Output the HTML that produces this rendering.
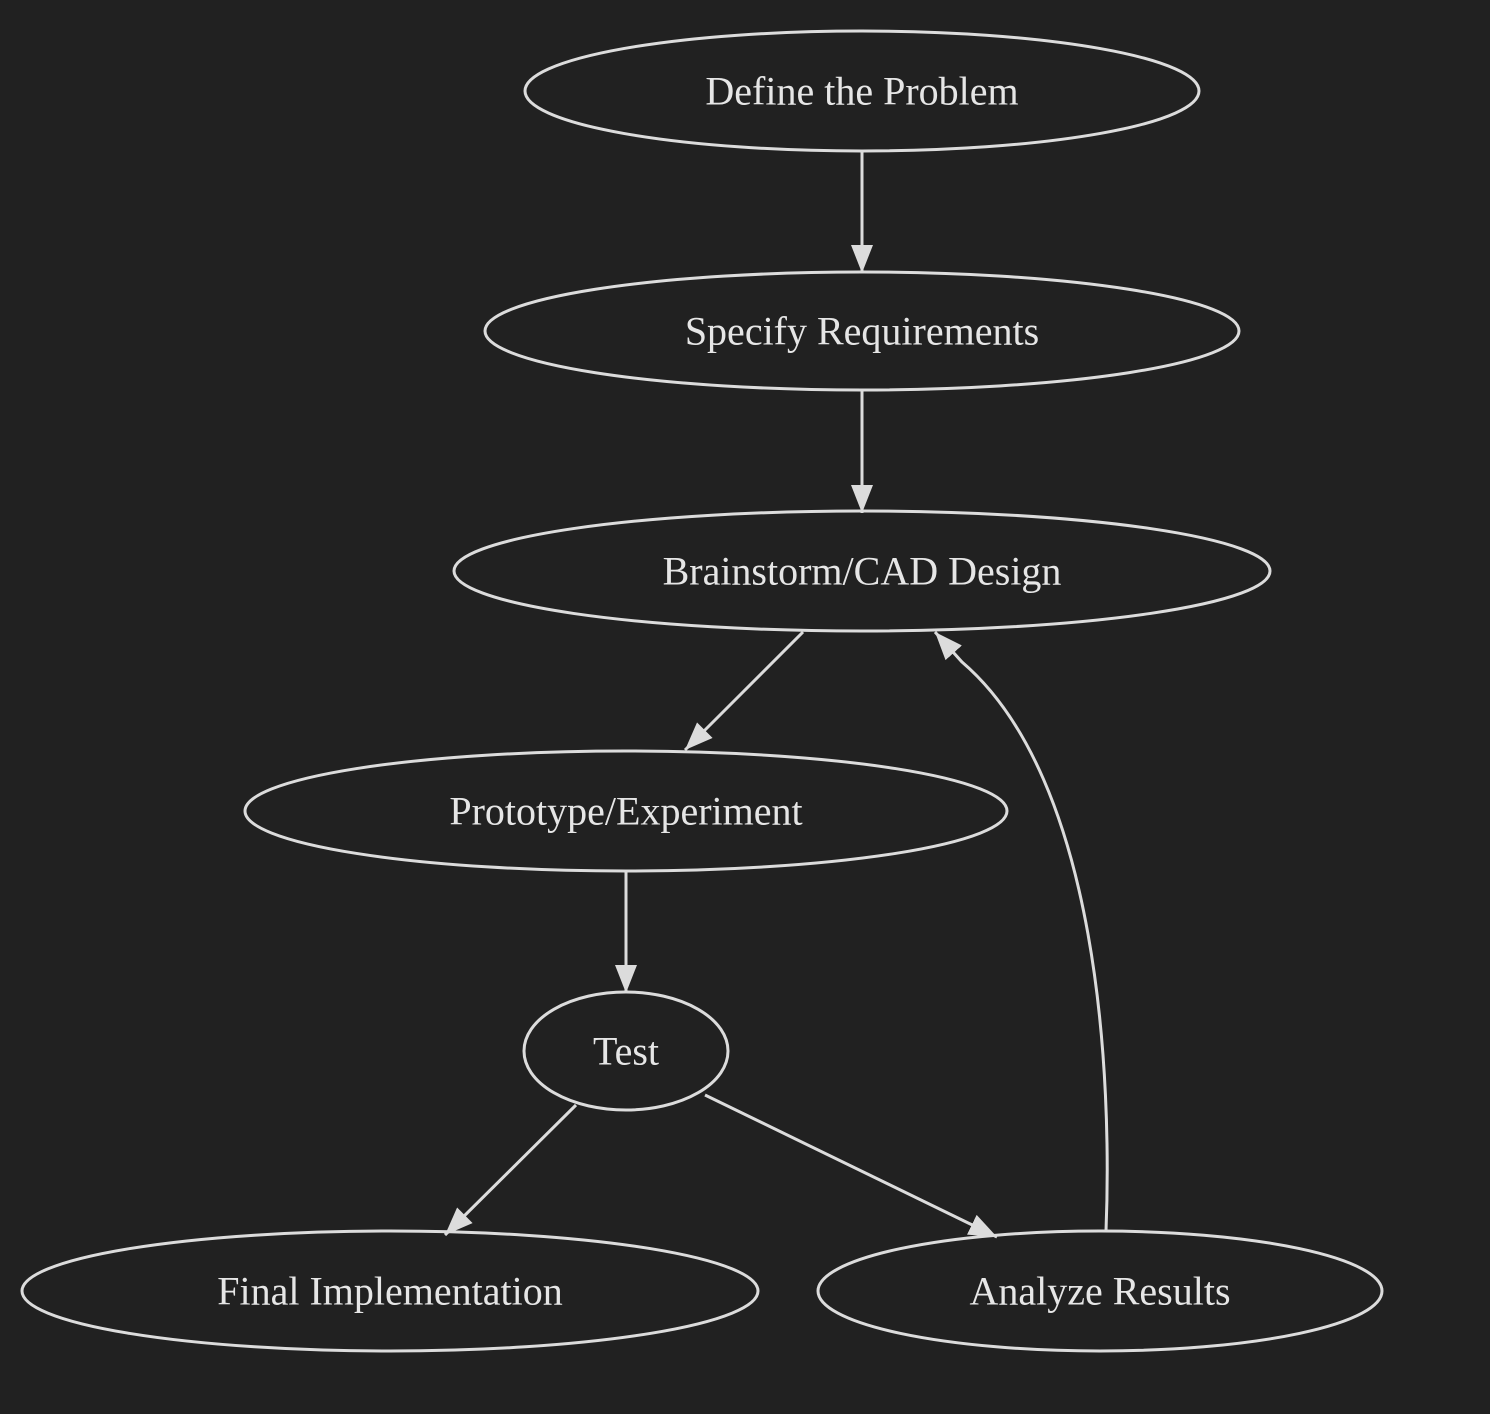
<!DOCTYPE html>
<html><head><meta charset="utf-8"><style>
html,body{margin:0;padding:0;background:#212121;}
svg{display:block}
text{font-family:"Liberation Serif",serif;font-size:40px;fill:#e6e6e6;text-anchor:middle;dominant-baseline:central}
</style></head><body>
<svg width="1490" height="1414" viewBox="0 0 1490 1414" xmlns="http://www.w3.org/2000/svg">
<defs>
<marker id="a" markerWidth="28" markerHeight="22" refX="28" refY="11" orient="auto" markerUnits="userSpaceOnUse">
<path d="M0,0 L28,11 L0,22 Z" fill="#dcdcdc"/>
</marker>
</defs>
<rect width="1490" height="1414" fill="#212121"/>
<g fill="none" stroke="#dcdcdc" stroke-width="3">
<ellipse cx="862" cy="91" rx="337" ry="60"/>
<ellipse cx="862" cy="331" rx="377" ry="59"/>
<ellipse cx="862" cy="571" rx="408" ry="60"/>
<ellipse cx="626" cy="811" rx="381" ry="60"/>
<ellipse cx="626" cy="1051" rx="102" ry="59"/>
<ellipse cx="390" cy="1291" rx="368" ry="60"/>
<ellipse cx="1100" cy="1291" rx="282" ry="60"/>
</g>
<g fill="none" stroke="#dcdcdc" stroke-width="3" marker-end="url(#a)">
<path d="M862,151 L862,273"/>
<path d="M862,391 L862,513"/>
<path d="M803,632 L685,750"/>
<path d="M626,871 L626,993"/>
<path d="M576,1105 L445,1235"/>
<path d="M705,1095 L997,1237"/>
<path d="M1106,1231 C1112,1080 1100,780 962,662 L935,632"/>
</g>
<text x="862" y="91">Define the Problem</text>
<text x="862" y="331">Specify Requirements</text>
<text x="862" y="571">Brainstorm/CAD Design</text>
<text x="626" y="811">Prototype/Experiment</text>
<text x="626" y="1051">Test</text>
<text x="390" y="1291">Final Implementation</text>
<text x="1100" y="1291">Analyze Results</text>
</svg>
</body></html>
